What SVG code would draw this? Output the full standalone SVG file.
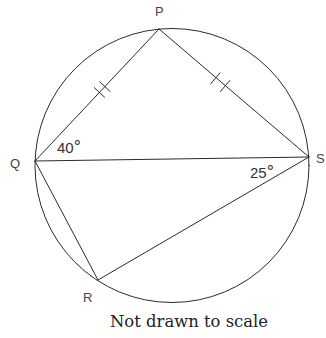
<svg xmlns="http://www.w3.org/2000/svg" width="326" height="338" viewBox="0 0 326 338">
<style>
.ln{stroke:#2b2b2b;stroke-width:1;fill:none;stroke-linecap:round}
.tk{stroke:#2b2b2b;stroke-width:1;fill:none}
.lbl{font-family:"Liberation Sans",Arial,sans-serif;font-size:13px;fill:#444}
.ang{font-family:"Liberation Sans",Arial,sans-serif;font-size:15px;fill:#333}
.deg{font-size:18px}
.note{font-family:"DejaVu Serif","Liberation Serif",serif;font-size:16px;fill:#222}
</style>
<rect width="326" height="338" fill="#fff"/>
<g id="circle"><circle class="ln" cx="172" cy="165.5" r="137"/></g>
<g id="connectors">
<line class="ln" x1="159" y1="29" x2="35" y2="161"/>
<line class="ln" x1="159" y1="29" x2="309" y2="157"/>
<line class="ln" x1="35" y1="161" x2="309" y2="157"/>
<line class="ln" x1="35" y1="161" x2="98" y2="280"/>
<line class="ln" x1="98" y1="280" x2="309" y2="157"/>
<g id="ticks-PQ">
<line class="tk" x1="99.4" y1="81.5" x2="110.4" y2="91.7"/>
<line class="tk" x1="93.9" y1="87.3" x2="104.9" y2="97.5"/>
</g>
<g id="ticks-PS">
<line class="tk" x1="210.5" y1="84.1" x2="220.3" y2="72.5"/>
<line class="tk" x1="220.2" y1="91.8" x2="230" y2="80.2"/>
</g>
</g>
<g id="node-P"><text class="lbl" x="155" y="16">P</text></g>
<g id="node-Q"><text class="lbl" x="10" y="168">Q</text></g>
<g id="node-R"><text class="lbl" x="83" y="302">R</text></g>
<g id="node-S"><text class="lbl" x="316" y="163">S</text></g>
<g id="angle-Q"><text class="ang" x="57" y="153">40<tspan class="deg">°</tspan></text></g>
<g id="angle-S"><text class="ang" x="250" y="178">25<tspan class="deg">°</tspan></text></g>
<g id="note"><text class="note" x="110" y="327" textLength="158" lengthAdjust="spacingAndGlyphs">Not drawn to scale</text></g>
</svg>
